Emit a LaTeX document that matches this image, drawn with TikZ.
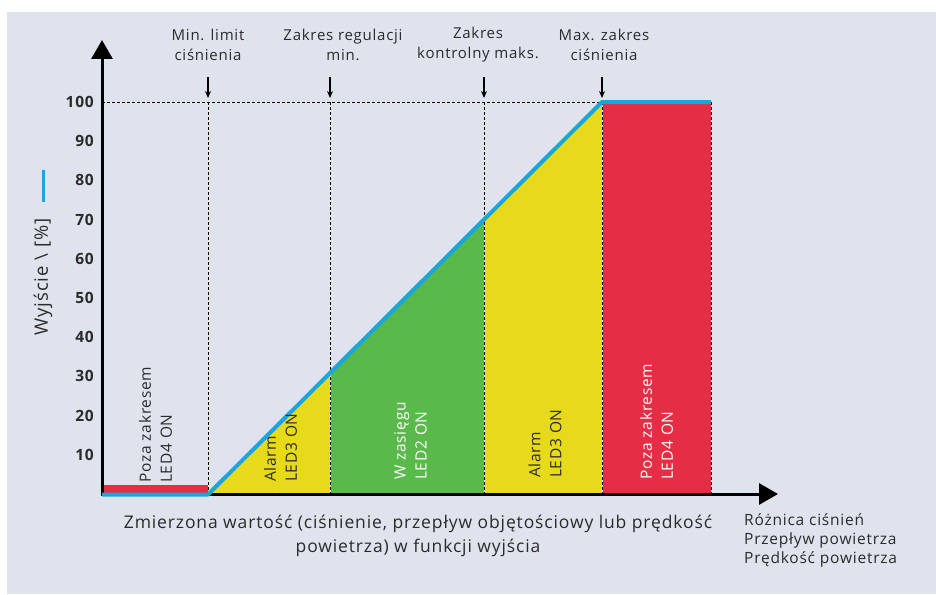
\documentclass[tikz,border=0pt]{standalone}
\usepackage{fontspec}
\setmainfont{Open Sans}[LetterSpace=5]
\usetikzlibrary{arrows.meta}
\definecolor{bgc}{HTML}{DFE3EE}
\definecolor{redc}{HTML}{E52D45}
\definecolor{yelc}{HTML}{E6DA1A}
\definecolor{grnc}{HTML}{5AB94B}
\definecolor{bluc}{HTML}{1AA7D8}
\definecolor{txtc}{HTML}{2B2B2B}
\definecolor{dashbg}{HTML}{F3EFC0}
\begin{document}
\begin{tikzpicture}[x=1pt,y=-1pt,
  txt/.style={text=txtc, inner sep=0pt, font=\fontsize{15}{20}\selectfont},
  tick/.style={text=txtc, inner sep=0pt, anchor=east, font=\bfseries\fontsize{15.5}{16}\selectfont},
  barlabel/.style={rotate=90, anchor=west, align=left, inner sep=0pt, font=\fontsize{15.5}{21}\selectfont},
  guide/.style={draw=black, line width=0.7pt, dash pattern=on 3pt off 2pt},
  guidebg/.style={draw=dashbg, line width=0.7pt},
  axis/.style={line width=3pt, -{Triangle[length=19pt,width=21pt]}},
  marker/.style={line width=1.6pt, -{Stealth[length=7pt,width=6pt]}},
  curve/.style={draw=bluc, line width=4pt, line join=round}]
\useasboundingbox (0,0) rectangle (936,594);
\fill[bgc] (7,12) rectangle (936,594);

% key points
\coordinate (O) at (102,494);
\coordinate (ytop) at (102,40);
\coordinate (xend) at (778,494);
\coordinate (a0) at (208,494);
\coordinate (b0) at (330,494);
\coordinate (c0) at (484,494);
\coordinate (d0) at (602,494);
\coordinate (e0) at (711,494);
\coordinate (b1) at (330,372.6);
\coordinate (c1) at (484,219.4);
\coordinate (d1) at (602,102);
\coordinate (e1) at (711,102);
\coordinate (h0) at (102,102);

% zones
\fill[redc] (102,485) rectangle (208,494);
\fill[yelc] (a0) -- (b0) -- (b1) -- cycle;
\fill[grnc] (b0) -- (b1) -- (c1) -- (c0) -- cycle;
\fill[yelc] (c0) -- (c1) -- (d1) -- (d0) -- cycle;
\fill[redc] (d1) rectangle (e0);

% guides
\draw[guidebg] (h0) -- (d1);
\draw[guide] (h0) -- (d1);
\foreach \xx in {208,330,484,602,711}{
  \draw[guidebg] (\xx,102) -- (\xx,494);
  \draw[guide] (\xx,102) -- (\xx,494);
}

% axes
\draw[axis] (102,495.5) -- (ytop);
\draw[axis] (100.5,494) -- (xend);

% output curve
\draw[curve] (102,494.5) -- (208,494.5) -- (d1) -- (e1);

% tick labels
\foreach \k in {1,...,10}{
  \node[tick] (t\k) at (94,494-39.2*\k) {\the\numexpr\k*10\relax};
}

% top labels and markers
\node[txt, align=center] (l1) at (208,45) {Min. limit\\ciśnienia};
\node[txt, align=center] (l2) at (343,45) {Zakres regulacji\\min.};
\node[txt, align=center] (l3) at (478,45) {Zakres\\kontrolny maks.};
\node[txt, align=center] (l4) at (604,45) {Max. zakres\\ciśnienia};
\foreach \xx/\n in {208/m1,330/m2,484/m3,602/m4}{
  \coordinate (\n s) at (\xx,77);
  \coordinate (\n e) at (\xx,98);
  \draw[marker] (\n s) -- (\n e);
}

% bar labels
\node[barlabel, text=txtc] (z1) at (155.5,483) {Poza zakresem\\LED4 ON};
\node[barlabel, text=txtc] (z2) at (280.5,482) {Alarm\\LED3 ON};
\node[barlabel, text=white] (z3) at (410.5,480) {W zasięgu\\LED2 ON};
\node[barlabel, text=txtc] (z4) at (545,478) {Alarm\\LED3 ON};
\node[barlabel, text=white] (z5) at (656.5,480) {Poza zakresem\\LED4 ON};

% y axis label
\node[txt, rotate=90, font=\fontsize{18.5}{19}\selectfont] (ylab) at (43,277) {Wyjście \textbackslash{} [\%]};
\coordinate (bl1) at (43,170);
\coordinate (bl2) at (43,202);
\draw[bluc, line width=3pt] (bl1) -- (bl2);

% x axis labels
\node[txt, align=center, font=\fontsize{17.5}{24}\selectfont] (xlab) at (418,536) {Zmierzona wartość (ciśnienie, przepływ objętościowy lub prędkość\\powietrza) w funkcji wyjścia};
\node[txt, align=left, anchor=west, font=\fontsize{15.5}{19}\selectfont] (xunits) at (744,540) {Różnica ciśnień\\Przepływ powietrza\\Prędkość powietrza};
\end{tikzpicture}
\end{document}
